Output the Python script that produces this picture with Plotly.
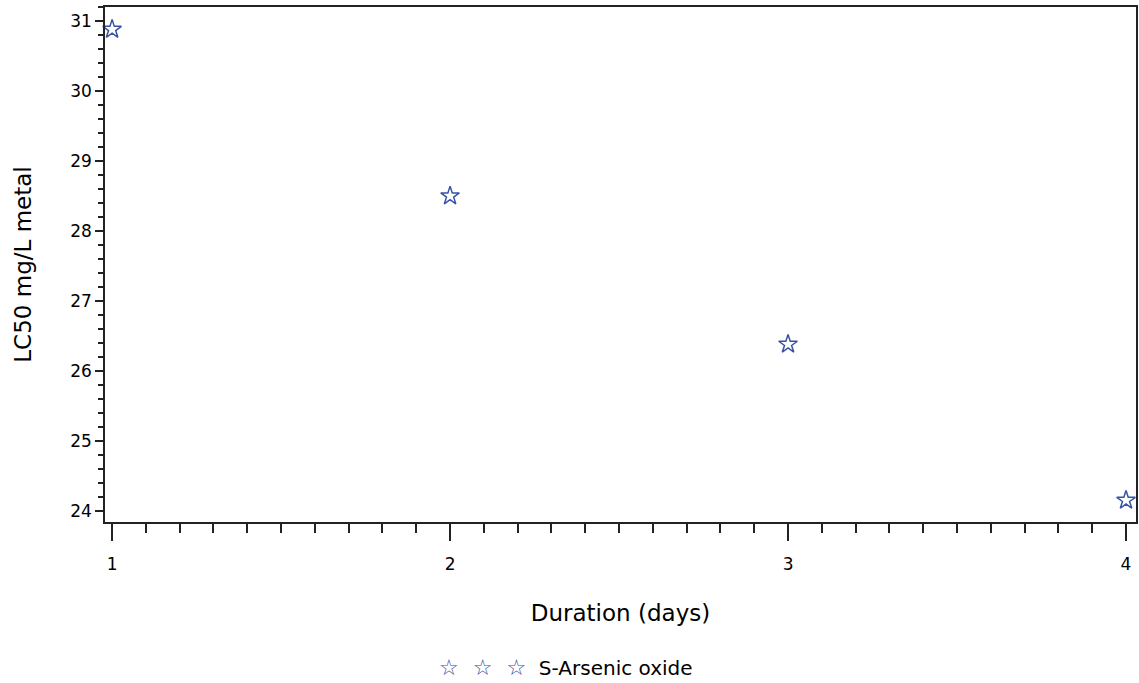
import plotly.graph_objects as go

duration_days = [1, 2, 3, 4]
lc50 = [30.88, 28.5, 26.38, 24.15]
series_name = "S-Arsenic oxide"
x_ticks = [1, 2, 3, 4]
y_ticks = [24, 25, 26, 27, 28, 29, 30, 31]

star_color = "#3953A4"
font_family = "DejaVu Sans, Liberation Sans, sans-serif"

fig = go.Figure()
marker = dict(symbol="star-open", size=14, color=star_color, line=dict(width=1.5, color=star_color))
fig.add_trace(go.Scatter(x=duration_days, y=lc50, mode="markers", marker=marker,
                         name=series_name, cliponaxis=False, showlegend=False))

stars = "&nbsp;&nbsp;".join(["☆"] * 3)
fig.update_layout(
    width=1139, height=683,
    paper_bgcolor="white", plot_bgcolor="white",
    margin=dict(l=105, r=1, t=7, b=161),
    font=dict(family=font_family, size=17, color="black"),
    showlegend=False,
    annotations=[dict(
        xref="paper", yref="paper", x=0.447, y=-0.282, xanchor="center", yanchor="middle",
        showarrow=False, align="left",
        text=f'<span style="color:{star_color};font-size:22px">{stars}</span>&nbsp;&nbsp;{series_name}',
        font=dict(size=20, color="black"),
    )],
)
fig.update_xaxes(
    range=[0.979, 4.0295], tickvals=x_ticks, ticktext=[str(v) for v in x_ticks],
    showgrid=False, zeroline=False, showline=True, linecolor="#222", linewidth=1.5,
    mirror=True, ticks="outside", ticklen=17, tickwidth=1.5, tickcolor="#222",
    ticklabelstandoff=9,
    minor=dict(dtick=0.1, ticks="outside", ticklen=9, tickwidth=1.5, tickcolor="#222", showgrid=False),
    title=dict(text="Duration (days)", font=dict(size=23), standoff=32),
)
fig.update_yaxes(
    range=[23.84, 31.2], tickvals=y_ticks, ticktext=[str(v) for v in y_ticks],
    showgrid=False, zeroline=False, showline=True, linecolor="#222", linewidth=1.5,
    mirror=True, ticks="outside", ticklen=8, tickwidth=1.5, tickcolor="#222",
    minor=dict(dtick=0.2, ticks="outside", ticklen=5, tickwidth=1.5, tickcolor="#222", showgrid=False),
    title=dict(text="LC50 mg/L metal", font=dict(size=23), standoff=32),
)

fig.write_html("out.html", config={"displayModeBar": False},
               post_script="document.body.style.margin='0';")
